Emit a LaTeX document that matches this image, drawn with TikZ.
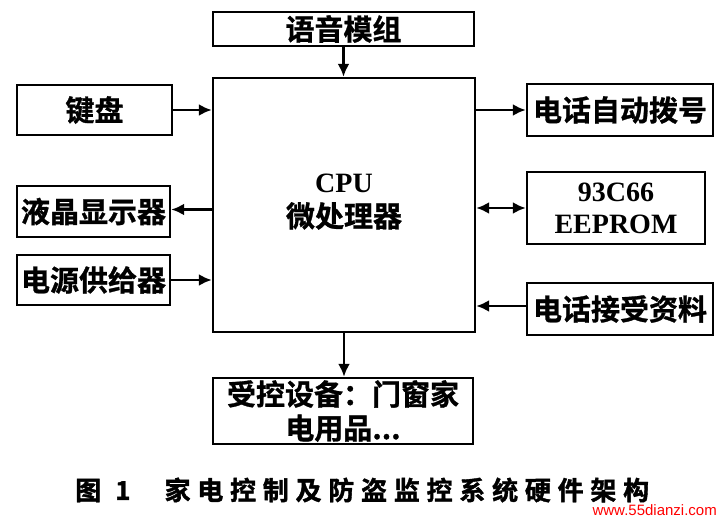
\documentclass[tikz,border=0pt]{standalone}
\usepackage{fontspec}
\usetikzlibrary{arrows.meta,calc}
\newfontfamily\cjk{Noto Sans CJK SC}[BoldFont={* Bold},BoldFeatures={FakeBold=1}]
\newfontfamily\capfont{Noto Sans CJK SC}[BoldFont={* Bold},BoldFeatures={FakeBold=1.5},LetterSpace=26]
\newfontfamily\lat{Liberation Serif}
\tikzset{
  blk/.style={draw=black, line width=2.4pt, inner sep=0pt, font=\cjk\bfseries\fontsize{29}{32}\selectfont, text=black},
  arr/.style={line width=2.8pt, -{Latex[length=13pt,width=12pt]}},
  darr/.style={line width=2.8pt, {Latex[length=13pt,width=12pt]}-{Latex[length=13pt,width=12pt]}}
}
\begin{document}
\begin{tikzpicture}[x=1pt,y=-1pt]
\useasboundingbox (0,0) rectangle (721,519);
\fill[white] (0,0) rectangle (721,519);
\node[blk, minimum width=261pt, minimum height=34pt] (voice) at (343.5,29) {语音模组};
\node[blk, minimum width=262pt, minimum height=254pt] (cpu) at (344,205) {};
\node[font=\lat\bfseries\fontsize{28}{33}\selectfont, align=center, inner sep=0pt] (cputxt) at (344,202) {CPU\\[1pt]{\cjk\bfseries\fontsize{29}{32}\selectfont 微处理器}};
\node[blk, minimum width=155pt, minimum height=50pt] (kb) at (94.5,110) {键盘};
\node[blk, minimum width=153pt, minimum height=51pt] (lcd) at (93.5,211.5) {液晶显示器};
\node[blk, minimum width=153pt, minimum height=50pt] (pwr) at (93.5,280) {电源供给器};
\node[blk, minimum width=186pt, minimum height=52pt] (dial) at (620,110) {电话自动拨号};
\node[blk, minimum width=178pt, minimum height=72pt, align=center, font=\lat\bfseries\fontsize{28}{33}\selectfont] (eep) at (616,208) {93C66\\[-1pt]EEPROM};
\node[blk, minimum width=186pt, minimum height=52pt] (recv) at (620,309) {电话接受资料};
\node[blk, minimum width=260pt, minimum height=66pt, align=center, font=\cjk\bfseries\fontsize{29}{34}\selectfont] (dev) at (343,411) {受控设备：门窗家\\电用品...};
\coordinate (lcdA) at ($(lcd.east)+(0,-2)$);
\coordinate (recvA) at ($(recv.west)+(0,-3)$);
\draw[arr] (voice.south) -- (voice.south |- cpu.north);
\draw[arr] (kb.east) -- (kb.east -| cpu.west);
\draw[arr] (lcdA -| cpu.west) -- (lcdA);
\draw[arr] (pwr.east) -- (pwr.east -| cpu.west);
\draw[arr] (dial.west -| cpu.east) -- (dial.west);
\draw[darr] (eep.west -| cpu.east) -- (eep.west);
\draw[arr] (recvA) -- (recvA -| cpu.east);
\draw[arr] (cpu.south) -- (cpu.south |- dev.north);
\node[font=\capfont\bfseries\fontsize{26}{28}\selectfont, anchor=west, inner sep=0pt] (cap) at (75,490) {图\hspace{14pt}1\hspace{34pt}家电控制及防盗监控系统硬件架构};
\node[font=\fontspec{Liberation Sans}\fontsize{15}{16}\selectfont, text=red, anchor=east, inner sep=0pt, inner xsep=2pt] (wm) at (719,510) {www.55dianzi.com};
\end{tikzpicture}
\end{document}
